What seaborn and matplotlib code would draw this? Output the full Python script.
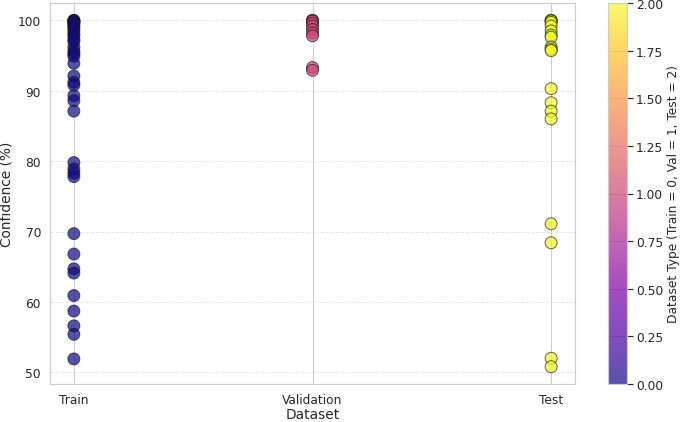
import matplotlib
matplotlib.use('Agg')
import matplotlib.pyplot as plt
import matplotlib as mpl
import numpy as np
import pandas as pd
import seaborn as sns

#%% data
train_conf = [100, 100, 99.9, 99.8, 99.6, 99.5, 99.2, 98.9, 98.5, 98.1, 97.8, 97.3,
              97.0, 96.2, 95.6, 95.3, 94.9, 93.9, 92.1, 91.2, 90.8, 89.3, 88.6, 87.1,
              79.8, 78.9, 78.3, 77.8, 69.7, 66.8, 64.7, 64.1, 60.9, 58.7, 56.6, 55.4, 51.9]
val_conf = [100, 100, 99.9, 99.6, 99.2, 98.7, 98.2, 97.8, 93.3, 92.9]
test_conf = [100, 100, 99.9, 99.7, 99.2, 98.5, 97.9, 97.6, 96.2, 95.9, 95.7,
             90.3, 88.3, 87.1, 86.0, 71.1, 68.4, 52.0, 50.8]
dataset_names = ['Train', 'Validation', 'Test']

df = pd.DataFrame({
    'dataset': [0] * len(train_conf) + [1] * len(val_conf) + [2] * len(test_conf),
    'confidence': train_conf + val_conf + test_conf,
})

#%% graph
sns.set_theme(style='whitegrid')

fig = plt.figure(figsize=(10, 6.22), dpi=68)
ax = fig.add_axes([50 / 680, 1 - 385 / 423, 525 / 680, 381 / 423])

sns.scatterplot(data=df, x='dataset', y='confidence', hue='dataset',
                palette='plasma', hue_norm=(0, 2), s=160, alpha=0.7,
                edgecolor='k', linewidth=1.0, legend=False, ax=ax)

ax.set_xticks([0, 1, 2])
ax.set_xticklabels(dataset_names)
ax.set_xlabel('Dataset', fontsize=14.5, labelpad=1)
ax.set_ylabel('Confidence (%)', fontsize=14.5)
ax.tick_params(labelsize=13)
ax.yaxis.grid(True, linestyle='--', alpha=0.5)

# colorbar
cax = fig.add_axes([608 / 680, 1 - 385 / 423, 19 / 680, 381 / 423])
sm = mpl.cm.ScalarMappable(cmap='plasma', norm=mpl.colors.Normalize(0, 2))
cb = fig.colorbar(sm, cax=cax, alpha=0.7)
cb.set_label('Dataset Type (Train = 0, Val = 1, Test = 2)', fontsize=13)
cb.ax.tick_params(labelsize=13)
cb.outline.set_edgecolor('#cccccc')

plt.savefig('out.png', dpi=68)
